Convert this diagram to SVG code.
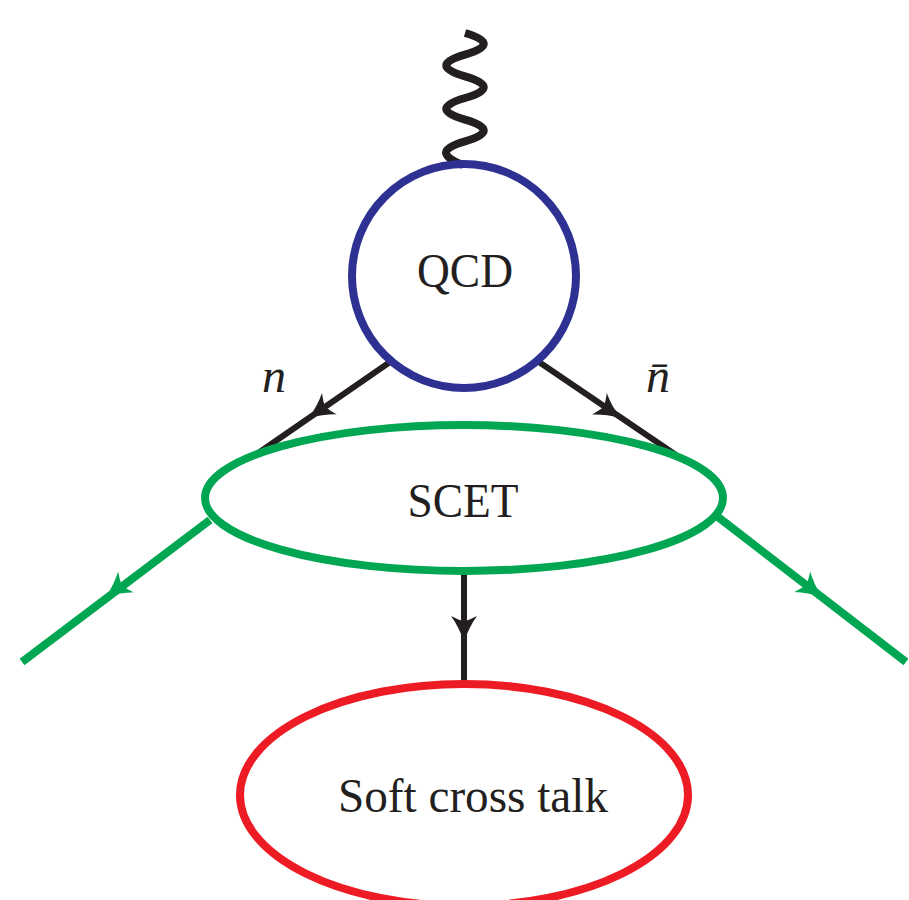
<svg xmlns="http://www.w3.org/2000/svg" width="909" height="900" viewBox="0 0 909 900">
<style>
.lbl{font-family:"Liberation Serif","DejaVu Serif",serif;font-size:48px;fill:#231f20;text-anchor:middle}
.it{font-family:"Liberation Serif","DejaVu Serif",serif;font-style:italic;font-size:48px;fill:#231f20;text-anchor:middle}
.blk{stroke:#231f20;stroke-width:6;fill:none}
.grn{stroke:#00a651;stroke-width:8;fill:none}
</style>
<defs>
<path id="ah" d="M6,0 C-4,-3 -13,-8 -20,-13 C-17,-7 -15,-2 -15,0 C-15,2 -17,7 -20,13 C-13,8 -4,3 6,0 Z"/>
</defs>
<rect width="909" height="900" fill="#ffffff"/>
<g id="connectors">
<path id="photon" d="M465,33 C490,40.2 490,47.4 465,54.67 S440,69.1 465,76.33 S490,90.8 465,98 S440,112.5 465,119.67 S490,134.1 465,141.33 S440,155.8 463,165" stroke="#231f20" stroke-width="8" fill="none"/>
<line class="blk" x1="390" y1="362" x2="254" y2="456"/>
<use href="#ah" fill="#231f20" transform="translate(313,415) rotate(145.3)"/>
<line class="blk" x1="539" y1="362" x2="676" y2="455"/>
<use href="#ah" fill="#231f20" transform="translate(616,415) rotate(34.2)"/>
<line class="grn" x1="210" y1="520" x2="22" y2="662"/>
<use href="#ah" fill="#00a651" transform="translate(110,594) rotate(143)"/>
<line class="grn" x1="718" y1="517" x2="906" y2="662"/>
<use href="#ah" fill="#00a651" transform="translate(818,594) rotate(37.6)"/>
<line class="blk" x1="464" y1="574" x2="464" y2="684"/>
<use href="#ah" fill="#231f20" transform="translate(464,636) rotate(90)"/>
</g>
<g id="qcd">
<circle cx="464" cy="276" r="112" fill="none" stroke="#2e3192" stroke-width="8"/>
<text class="lbl" x="465" y="287" textLength="96" lengthAdjust="spacingAndGlyphs">QCD</text>
</g>
<g id="scet">
<ellipse cx="464" cy="498" rx="259" ry="73" fill="none" stroke="#00a651" stroke-width="8"/>
<text class="lbl" x="463" y="517" textLength="111" lengthAdjust="spacingAndGlyphs">SCET</text>
</g>
<g id="soft">
<ellipse cx="464" cy="795" rx="224" ry="111" fill="none" stroke="#ed1c24" stroke-width="8"/>
<text class="lbl" x="473" y="812" textLength="270" lengthAdjust="spacingAndGlyphs">Soft cross talk</text>
</g>
<g id="label-n">
<text class="it" x="274" y="392">n</text>
</g>
<g id="label-nbar">
<text class="it" x="658" y="392">n̄</text>
</g>
</svg>
